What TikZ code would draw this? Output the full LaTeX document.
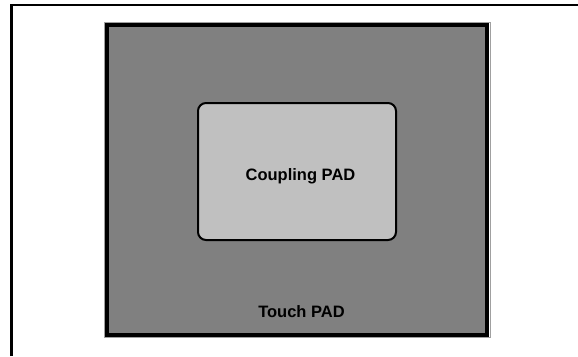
\documentclass[tikz,border=0pt]{standalone}
\usepackage{fontspec}
\setmainfont{Liberation Sans}
\usetikzlibrary{positioning}

\definecolor{touchgray}{RGB}{128,128,128}
\definecolor{couplegray}{RGB}{192,192,192}
\definecolor{rimgray}{RGB}{160,160,160}

\tikzset{
  padtext/.style={font=\fontsize{16.5}{19}\selectfont\bfseries, text=black, inner sep=0pt},
}

\begin{document}
\begin{tikzpicture}[x=1pt,y=-1pt]
					\useasboundingbox (0,0) rectangle (578,356);
					%FRAME
					\draw[line width=2.5pt] (11.5,356) -- (11.5,5.2) -- (578,5.2);

					%TOUCH PAD
					\draw[rimgray, line width=1pt] (104.5,22.5) rectangle (490.5,337.5);
					\draw[fill=touchgray, line width=4pt] (107,25) rectangle (487,334.5);
					\node[padtext] (touchlbl) at (301.5,312) {Touch PAD};

					%COUPLING PAD
					\draw[fill=couplegray, line width=2pt, rounded corners=8pt] (198,103) rectangle (396,240);
					\node[padtext] (couplelbl) at (300.5,176.5) {Coupling PAD};

				  \end{tikzpicture}
\end{document}
